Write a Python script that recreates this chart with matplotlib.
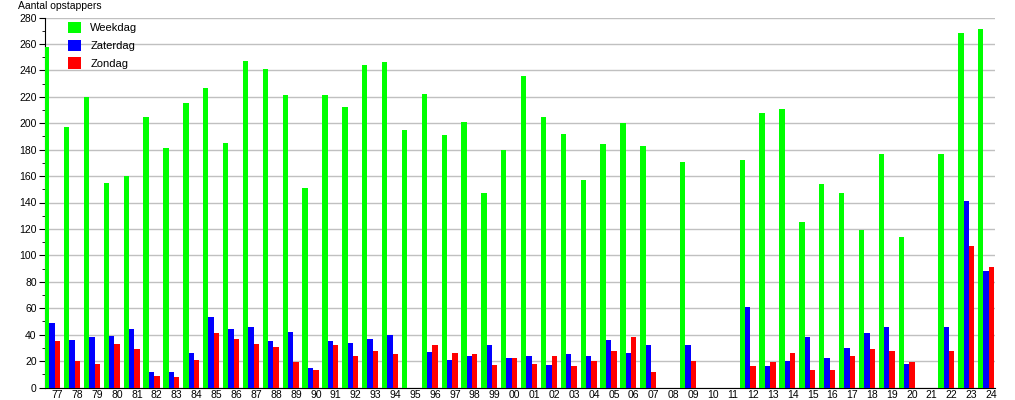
from __future__ import annotations

import matplotlib

matplotlib.use("Agg")
import matplotlib.pyplot as plt
from matplotlib.ticker import MultipleLocator
import numpy as np


YEARS = [
	"77", "78", "79", "80", "81", "82", "83", "84", "85", "86", "87", "88",
	"89", "90", "91", "92", "93", "94", "95", "96", "97", "98", "99", "00",
	"01", "02", "03", "04", "05", "06", "07", "08", "09", "10", "11", "12",
	"13", "14", "15", "16", "17", "18", "19", "20", "21", "22", "23", "24",
]

# 0 where no bar is drawn (08, 10, 11, 21 and missing weekend data)
WEEKDAG = [
	258, 197, 220, 155, 160, 205, 181, 215, 227, 185, 247, 241,
	221, 151, 221, 212, 244, 246, 195, 222, 191, 201, 147, 180,
	236, 205, 192, 157, 184, 200, 183, 0, 171, 0, 0, 172,
	208, 211, 125, 154, 147, 119, 177, 114, 0, 177, 268, 271,
]
ZATERDAG = [
	49, 36, 38, 39, 44, 12, 12, 26, 53, 44, 46, 35,
	42, 15, 35, 34, 37, 40, 0, 27, 21, 24, 32, 22,
	24, 17, 25, 24, 36, 26, 32, 0, 32, 0, 0, 61,
	16, 20, 38, 22, 30, 41, 46, 18, 0, 46, 141, 88,
]
ZONDAG = [
	35, 20, 18, 33, 29, 9, 8, 21, 41, 37, 33, 31,
	19, 13, 32, 24, 28, 25, 0, 32, 26, 25, 17, 22,
	18, 24, 16, 20, 28, 38, 12, 0, 20, 0, 0, 16,
	19, 26, 13, 13, 24, 29, 28, 19, 0, 28, 107, 91,
]

SERIES = [
	("Weekdag", WEEKDAG, "#00ff00"),
	("Zaterdag", ZATERDAG, "#0000ff"),
	("Zondag", ZONDAG, "#ff0000"),
]


def main() -> int:
	plt.rcParams["font.family"] = ["Liberation Sans", "DejaVu Sans"]

	fig = plt.figure(figsize=(10.15, 4.0), dpi=100)
	ax = fig.add_axes([45 / 1015, 12.5 / 400, 950 / 1015, 370 / 400])

	x = np.arange(len(YEARS))
	width = 0.27
	# the year label sits under the last (red) bar of each group
	offsets = [-2 * width, -width, 0.0]

	for (name, values, color), off in zip(SERIES, offsets):
		ax.bar(x + off, values, width=width, color=color, label=name, zorder=3)

	ax.set_xlim(-0.63, 47.18)
	ax.set_ylim(0, 280)
	ax.set_xticks(x)
	ax.set_xticklabels(YEARS, fontsize=7.5)
	ax.tick_params(axis="x", length=0, pad=2)

	ax.yaxis.set_major_locator(MultipleLocator(20))
	ax.yaxis.set_minor_locator(MultipleLocator(10))
	ax.tick_params(axis="y", which="major", length=4, labelsize=7.5, pad=2)
	ax.tick_params(axis="y", which="minor", length=2)

	ax.grid(axis="y", color="#c0c0c0", linewidth=1, zorder=0)
	ax.spines["top"].set_visible(False)
	ax.spines["right"].set_visible(False)

	ax.text(
		-27 / 950, 1.0 + 11.5 / 370, "Aantal opstappers",
		transform=ax.transAxes, fontsize=7.5, ha="left", va="center",
	)

	ax.legend(
		loc="upper left",
		bbox_to_anchor=(23 / 950, 1.0 - 4.5 / 370),
		frameon=False,
		fontsize=8,
		borderpad=0,
		borderaxespad=0,
		handlelength=1.2,
		handleheight=1.2,
		handletextpad=0.8,
		labelspacing=0.55,
	)

	fig.savefig("out.png", dpi=100)
	plt.close(fig)
	return 0


if __name__ == "__main__":
	raise SystemExit(main())
